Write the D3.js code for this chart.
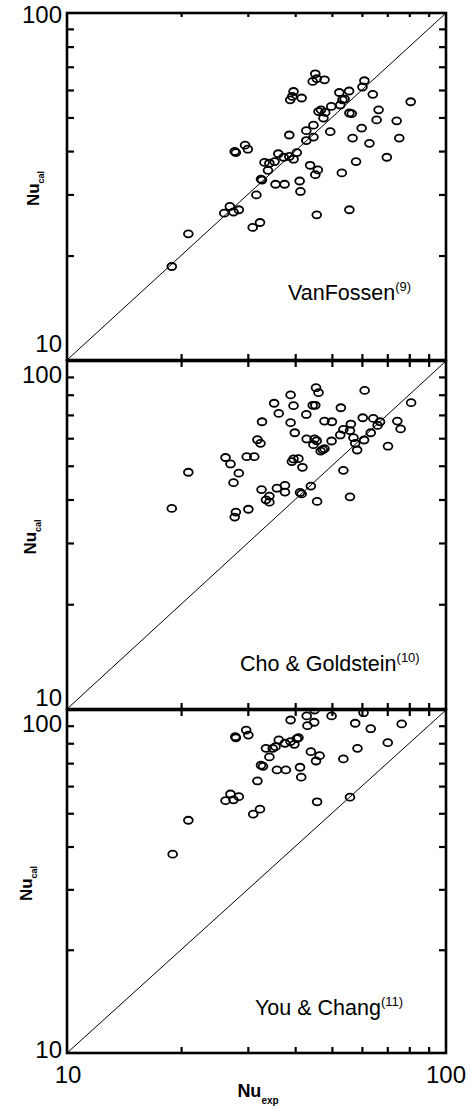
<!DOCTYPE html>
<html>
<head>
<meta charset="utf-8">
<script src="https://cdn.jsdelivr.net/npm/d3@7"></script>
<style>
  html, body { margin: 0; padding: 0; background: #fff; }
  svg { display: block; }
  text { font-family: "Liberation Sans", Arial, Helvetica, sans-serif; fill: #000; }
</style>
</head>
<body>
<svg id="chart" width="474" height="1110"></svg>
<script>
// ---------------- data ----------------
const panelNames = ["VanFossen", "Cho & Goldstein", "You & Chang"];
const panelRefs = ["(9)", "(10)", "(11)"];
const axisLabels = ["10", "100"];
const minorTicks = [20, 30, 40, 50, 60, 70, 80, 90];

const vfExp = [18.9,20.9,26.0,26.9,27.5,28.4,27.7,27.9,29.5,30.0,30.9,32.3,31.6,32.5,32.7,33.2,33.9,34.2,35.3,35.5,36.1,37.5,37.3,38.6,38.6,39.6,40.4,41.1,41.3,38.8,39.3,39.6,41.6,42.8,42.8,43.8,44.7,44.7,45.2,45.9,45.6,44.5,45.2,45.6,47.8,46.1,46.8,47.5,48.0,49.5,49.8,53.1,52.3,52.6,53.3,54.0,55.5,55.6,56.4,56.7,55.6,57.9,59.9,60.2,60.9,62.8,64.1,65.6,66.4,69.8,74.1,75.3,80.7];
const vfCal = [18.6,23.1,26.5,27.7,26.7,27.1,39.9,39.6,41.6,40.5,24.1,24.9,29.9,33.2,33.0,37.1,35.2,36.9,37.3,32.1,39.3,32.1,38.4,44.5,38.6,37.9,39.6,32.8,30.6,56.2,57.5,59.4,56.9,45.8,42.9,36.4,43.9,47.5,34.2,35.3,26.2,63.5,66.8,64.7,64.2,52.0,52.6,49.8,51.7,45.5,53.8,34.6,59.0,54.3,56.2,56.5,59.6,51.5,51.3,43.6,27.1,37.3,46.6,61.2,63.8,42.1,58.3,49.2,52.6,38.4,48.9,43.6,55.5];

const cgExp = [18.9,20.9,26.2,27.0,27.5,28.4,27.7,27.9,30.1,29.8,31.2,32.6,33.5,34.2,34.2,31.8,32.4,32.7,35.2,36.2,35.8,37.6,37.6,38.9,38.9,39.6,39.9,39.2,39.6,40.8,41.2,41.6,41.8,42.8,42.9,44.0,44.7,44.5,45.2,45.4,46.1,45.0,45.6,45.7,46.7,47.3,47.8,47.8,49.9,50.0,52.8,52.6,53.6,53.6,55.8,56.1,55.8,57.0,57.6,58.3,60.3,60.8,61.0,63.3,64.3,66.0,67.0,70.3,74.4,75.9,80.9];
const cgCal = [37.7,47.9,52.8,50.6,44.7,47.6,35.6,36.8,37.5,53.1,53.1,42.7,39.9,40.9,39.3,59.4,58.0,66.9,75.6,70.7,43.1,43.9,42.0,79.9,66.5,74.4,62.2,51.4,52.3,52.4,41.9,41.5,49.5,70.2,59.7,43.7,57.5,74.6,74.6,83.8,81.1,59.7,59.0,39.5,55.1,55.6,56.0,67.2,58.9,66.9,73.4,61.3,63.6,48.5,63.1,65.9,40.7,60.2,58.0,55.5,68.7,59.3,82.3,62.2,68.4,65.3,66.9,56.9,67.2,63.8,75.9];

const ycExp = [19.0,20.9,26.2,27.0,27.5,28.4,27.8,27.9,29.7,30.1,31.0,32.3,31.8,32.5,32.9,33.5,34.2,34.9,35.5,36.2,35.8,37.8,37.6,38.9,38.9,39.8,40.4,40.8,41.2,41.5,42.9,43.1,44.0,44.9,45.0,45.4,46.4,45.7,49.9,53.6,55.8,57.6,58.4,60.6,63.3,70.2,76.4];
const ycCal = [38.0,47.7,54.4,56.9,54.7,55.9,83.6,83.0,87.4,84.5,49.7,51.4,62.1,69.0,68.5,77.3,73.0,77.3,78.2,81.8,66.9,66.9,80.0,93.5,80.9,79.4,82.5,83.0,68.1,63.7,96.1,90.0,75.6,92.1,100.0,71.0,73.6,54.0,96.1,72.0,55.7,91.5,77.3,98.2,88.2,80.3,91.1];

// ---------------- layout ----------------
const plotLeft = 67, plotRight = 446;
const panelTop = [13, 361, 710];
const panelBottom = [360, 709, 1053];
const topLabelDy = [10, 22, 22];
const botLabelDy = [-8, -3, 5];
const nameX = [288, 240, 255];
const nameY = [300, 671, 1015];
const ylabCx = [33, 30, 26];

const series = [
  { exp: vfExp, cal: vfCal },
  { exp: cgExp, cal: cgCal },
  { exp: ycExp, cal: ycCal }
];

const svg = d3.select("#chart");
const x = d3.scaleLog().domain([10, 100]).range([plotLeft, plotRight]);

series.forEach((s, i) => {
  const y = d3.scaleLog().domain([10, 100]).range([panelBottom[i], panelTop[i]]);
  const g = svg.append("g");
  const clipId = "clip" + i;
  svg.append("clipPath").attr("id", clipId)
    .append("rect")
    .attr("x", plotLeft).attr("y", panelTop[i])
    .attr("width", plotRight - plotLeft).attr("height", panelBottom[i] - panelTop[i]);

  // diagonal 1:1 line
  g.append("line")
    .attr("x1", x(10)).attr("y1", y(10))
    .attr("x2", x(100)).attr("y2", y(100))
    .attr("stroke", "#000").attr("stroke-width", 1);

  // points
  g.append("g").attr("clip-path", `url(#${clipId})`)
    .selectAll("ellipse")
    .data(s.exp.map((v, k) => [v, s.cal[k]]))
    .join("ellipse")
    .attr("cx", d => x(d[0]))
    .attr("cy", d => y(d[1]))
    .attr("rx", 4.4)
    .attr("ry", 3.5)
    .attr("fill", "none")
    .attr("stroke", "#000")
    .attr("stroke-width", 1.8);

  // axes ticks (inward)
  const tickLen = 7;
  const axL = d3.axisLeft(y).tickValues(minorTicks).tickSize(-tickLen).tickFormat("");
  const axR = d3.axisRight(y).tickValues(minorTicks).tickSize(-tickLen).tickFormat("");
  const axB = d3.axisBottom(x).tickValues(minorTicks).tickSize(-6).tickFormat("");
  const axT = d3.axisTop(x).tickValues(minorTicks).tickSize(i === 0 ? -4 : -6).tickFormat("");
  [[axL, `translate(${plotLeft},0)`], [axR, `translate(${plotRight},0)`],
   [axB, `translate(0,${panelBottom[i]})`], [axT, `translate(0,${panelTop[i]})`]].forEach(([ax, tr]) => {
    const a = g.append("g").attr("transform", tr).call(ax);
    a.select(".domain").remove();
    a.selectAll(".tick line").attr("stroke", "#000").attr("stroke-width", 2.2);
  });

  // frame
  g.append("rect")
    .attr("x", plotLeft).attr("y", panelTop[i])
    .attr("width", plotRight - plotLeft).attr("height", panelBottom[i] - panelTop[i])
    .attr("fill", "none").attr("stroke", "#000").attr("stroke-width", 2.6);

  // y major labels
  g.append("text").attr("x", plotLeft - 5).attr("y", y(100) + topLabelDy[i])
    .attr("text-anchor", "end").attr("font-size", 24).text(axisLabels[1]);
  g.append("text").attr("x", plotLeft - 5).attr("y", y(10) + botLabelDy[i])
    .attr("text-anchor", "end").attr("font-size", 24).text(axisLabels[0]);

  // y title
  const cy = (panelTop[i] + panelBottom[i]) / 2 + 2;
  const yt = g.append("text")
    .attr("transform", `translate(${ylabCx[i] + 6},${cy}) rotate(-90)`)
    .attr("text-anchor", "middle").attr("font-weight", "bold").attr("font-size", 17);
  yt.append("tspan").text("Nu");
  yt.append("tspan").attr("font-size", 9).attr("dy", 5).text("cal");

  // panel name
  const nt = g.append("text").attr("x", nameX[i]).attr("y", nameY[i]).attr("font-size", 21.5);
  nt.append("tspan").text(panelNames[i]);
  nt.append("tspan").attr("font-size", 13).attr("dy", -9).text(panelRefs[i]);
});

// bottom x labels
svg.append("text").attr("x", x(10) + 1).attr("y", 1083).attr("text-anchor", "middle")
  .attr("font-size", 24).text(axisLabels[0]);
svg.append("text").attr("x", x(100)).attr("y", 1083).attr("text-anchor", "middle")
  .attr("font-size", 24).text(axisLabels[1]);
const xt = svg.append("text").attr("x", 258).attr("y", 1097).attr("text-anchor", "middle")
  .attr("font-weight", "bold").attr("font-size", 18);
xt.append("tspan").text("Nu");
xt.append("tspan").attr("font-size", 10).attr("dy", 7).text("exp");
</script>
</body>
</html>
